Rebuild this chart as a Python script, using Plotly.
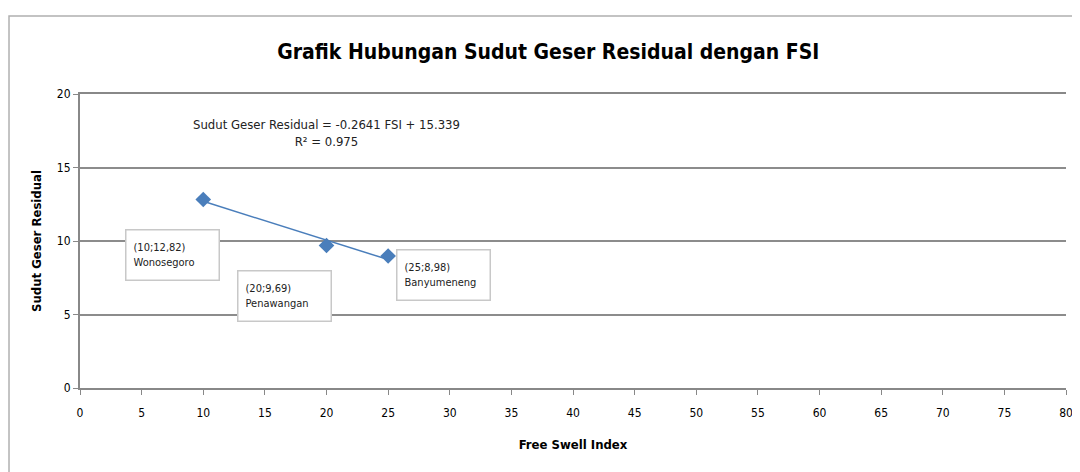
import numpy as np
import plotly.graph_objects as go

# data points (FSI vs sudut geser residual)
fsi = [10, 20, 25]
sudut = [12.82, 9.69, 8.98]
lokasi = ["Wonosegoro", "Penawangan", "Banyumeneng"]
label_pos = [(3.65, 9.05), (12.7, 6.25), (25.6, 7.7)]

x_ticks = list(range(0, 81, 5))
y_ticks = list(range(0, 21, 5))

# linear trend line
slope, intercept = np.polyfit(fsi, sudut, 1)
pred = np.polyval([slope, intercept], fsi)
r2 = 1 - np.sum((np.array(sudut) - pred) ** 2) / np.sum((np.array(sudut) - np.mean(sudut)) ** 2)
trend_x = [min(fsi), max(fsi)]
trend_y = list(np.polyval([slope, intercept], trend_x))

font = "DejaVu Sans Condensed, Liberation Sans Narrow, Arial Narrow, sans-serif"
blue = "#4a7ebb"

fig = go.Figure()
fig.add_trace(go.Scatter(x=trend_x, y=trend_y, mode="lines",
                         line=dict(color=blue, width=1.5), showlegend=False))
fig.add_trace(go.Scatter(x=fsi, y=sudut, mode="markers",
                         marker=dict(symbol="diamond", size=12, color=blue),
                         showlegend=False))

for xv, yv, name, (lx, ly) in zip(fsi, sudut, lokasi, label_pos):
    txt = f"({xv};{str(yv).replace('.', ',')})<br>{name}"
    fig.add_annotation(x=lx, y=ly, text=txt, showarrow=False, align="left",
                       xanchor="left", yanchor="middle", width=78, height=35,
                       font=dict(family=font, size=11, color="#222"),
                       bordercolor="#c8c8c8", borderwidth=1.5, borderpad=7,
                       bgcolor="white")

fig.add_annotation(x=20.0, y=17.35, showarrow=False,
                   text=f"Sudut Geser Residual = {slope:.4f} FSI + {intercept:.3f}<br>R\u00b2 = {r2:.3f}",
                   font=dict(family=font, size=13, color="#222"))

# outer chart border
fig.add_shape(type="rect", xref="paper", yref="paper",
              x0=-0.072, x1=1.2, y0=-0.6, y1=1.265,
              line=dict(color="#b0b0b0", width=1.5), layer="below")

fig.update_layout(
    width=1072, height=464,
    margin=dict(l=72, r=14, t=86, b=84),
    paper_bgcolor="white", plot_bgcolor="white",
    title=dict(text="<b>Grafik Hubungan Sudut Geser Residual dengan FSI</b>",
               x=0.504, xanchor="center", y=0.907, yanchor="middle",
               font=dict(family=font, size=21, color="black")),
    font=dict(family=font, color="black"),
)
fig.update_xaxes(range=[0, 80], tickvals=x_ticks, showgrid=False,
                 showline=True, linecolor="#888", linewidth=2, mirror=True,
                 ticks="outside", tickcolor="#888", ticklen=5, tickwidth=1,
                 ticklabelstandoff=8, automargin=False,
                 tickfont=dict(size=12), zeroline=False,
                 title=dict(text="<b>Free Swell Index</b>", font=dict(size=13), standoff=20))
fig.update_yaxes(range=[0, 20], tickvals=y_ticks, showgrid=True,
                 gridcolor="#8c8c8c", gridwidth=2,
                 showline=True, linecolor="#888", linewidth=2,
                 ticks="outside", tickcolor="#888", ticklen=5, tickwidth=1,
                 automargin=False,
                 tickfont=dict(size=12), zeroline=False,
                 title=dict(text="<b>Sudut Geser Residual</b>", font=dict(size=13), standoff=12))

fig.write_html("out.html")
